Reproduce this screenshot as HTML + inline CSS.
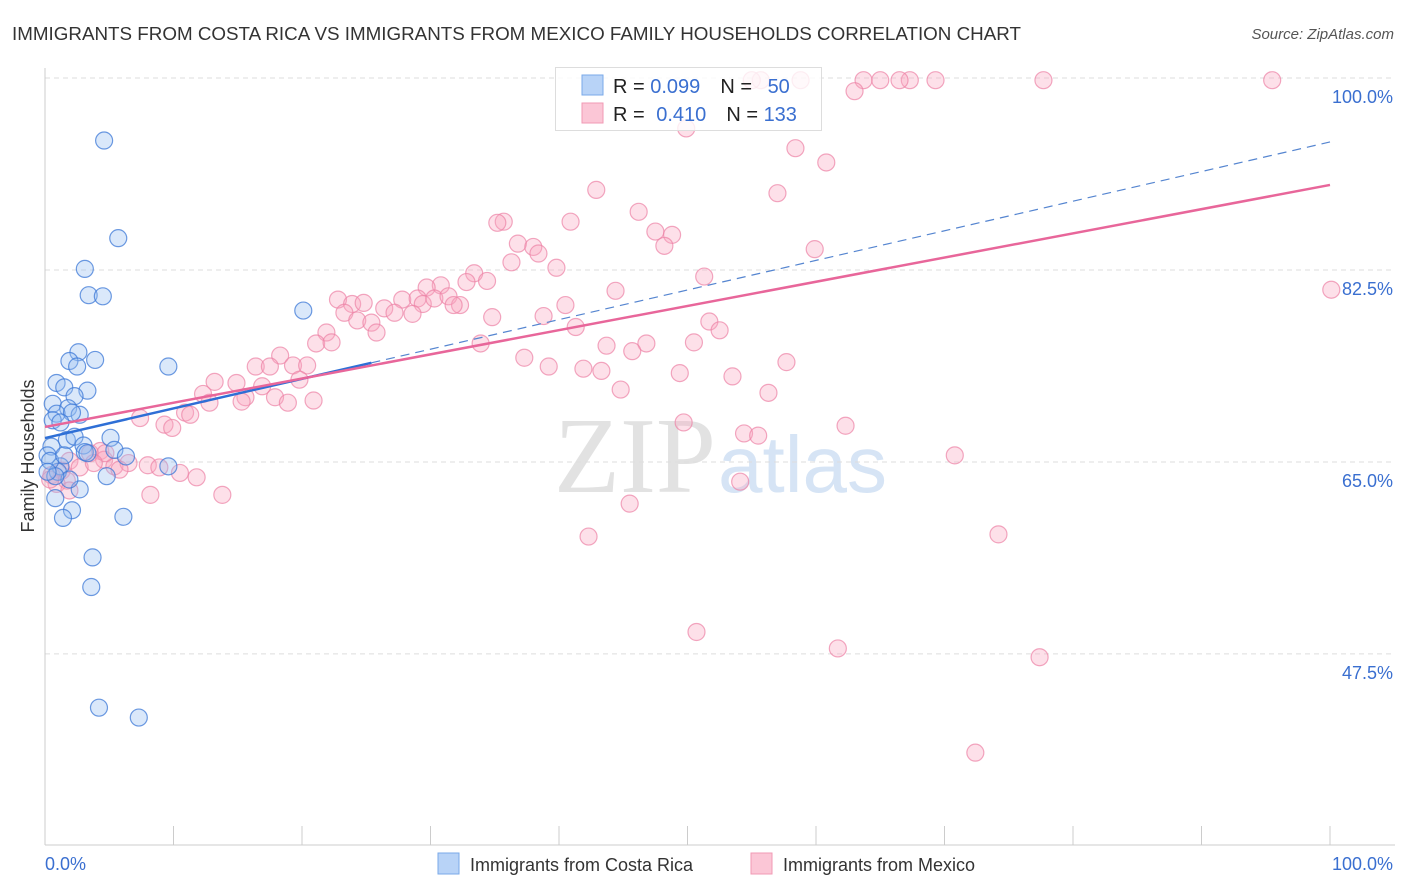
<!DOCTYPE html>
<html><head><meta charset="utf-8"><style>
body{margin:0;background:#fff;font-family:"Liberation Sans",sans-serif;}
#wrap{position:relative;width:1406px;height:892px;overflow:hidden;}
</style></head><body>
<div id="wrap">
<svg id="svg" width="1406" height="892" xmlns="http://www.w3.org/2000/svg">
<text x="12" y="40" font-size="18.8" fill="#333" textLength="1009">IMMIGRANTS FROM COSTA RICA VS IMMIGRANTS FROM MEXICO FAMILY HOUSEHOLDS CORRELATION CHART</text>
<text x="1394" y="39" font-size="15" fill="#555" text-anchor="end" font-style="italic">Source: ZipAtlas.com</text>
<text x="716" y="492" font-size="108" fill="#e2e2e2" text-anchor="end" font-family="Liberation Serif">ZIP</text>
<text x="718" y="492" font-size="80" fill="#d6e4f5">atlas</text>
<g id="grid"></g>
<g id="axes"></g>
<g id="marks"></g>
<g id="lines"></g>
<text transform="translate(34,456) rotate(-90)" font-size="18" fill="#333" text-anchor="middle">Family Households</text>
<text x="45" y="870" font-size="18" fill="#3a6fd0">0.0%</text>
<text x="1393" y="870" font-size="18" fill="#3a6fd0" text-anchor="end">100.0%</text>
<g>
<rect x="555.5" y="67.5" width="266" height="63" fill="rgba(255,255,255,0.8)" stroke="#ddd"/>
<rect x="582" y="75" width="21" height="20" fill="#b8d3f7" stroke="#7aaae8"/>
<rect x="582" y="103" width="21" height="20" fill="#fbc6d6" stroke="#f09ab4"/>
<text x="613" y="93" font-size="20" fill="#222">R = <tspan fill="#3a6fd0">0.099</tspan><tspan dx="20">N = </tspan><tspan fill="#3a6fd0" dx="10">50</tspan></text>
<text x="613" y="121" font-size="20" fill="#222">R = <tspan fill="#3a6fd0" dx="6">0.410</tspan><tspan dx="20">N = </tspan><tspan fill="#3a6fd0">133</tspan></text>
</g>
<g>
<rect x="438" y="853" width="21" height="21" fill="#b8d3f7" stroke="#7aaae8"/>
<text x="470" y="871" font-size="18" fill="#333">Immigrants from Costa Rica</text>
<rect x="751" y="853" width="21" height="21" fill="#fbc6d6" stroke="#f09ab4"/>
<text x="783" y="871" font-size="18" fill="#333">Immigrants from Mexico</text>
</g>
</svg>
</div>
<script>
const yTicks=[100,82.5,65,47.5];
const yTickLabels=["100.0%","82.5%","65.0%","47.5%"];
const xTicks=[0,10,20,30,40,50,60,70,80,90,100];
const blueX=[4.6,5.7,3.1,3.4,4.5,20.1,9.6,2.6,3.9,1.9,2.5,0.9,1.5,3.3,2.3,0.6,1.8,2.7,0.9,2.1,0.6,1.2,1.7,2.3,5.1,3.0,0.5,3.1,5.4,3.3,0.2,6.3,9.6,1.2,1.0,4.8,2.7,0.8,2.1,1.4,6.1,3.7,3.6,4.2,7.3,0.4,1.5,1.9,0.8,0.2];
const blueY=[94.3,85.4,82.6,80.2,80.1,78.8,73.7,75.0,74.3,74.2,73.7,72.2,71.8,71.5,71.0,70.3,69.9,69.3,69.4,69.5,68.8,68.6,67.0,67.3,67.2,66.5,66.4,65.9,66.1,65.8,65.6,65.5,64.6,64.6,64.1,63.7,62.5,61.7,60.6,59.9,60.0,56.3,53.6,42.6,41.7,65.1,65.6,63.4,63.7,64.1];
const pinkX=[95.5,77.7,69.3,67.3,66.5,65.0,63.7,63.0,58.8,55.7,55.0,49.9,58.4,60.8,57.0,42.9,46.2,40.9,35.7,35.2,47.5,48.8,36.8,38.0,48.2,38.4,36.3,59.9,39.8,33.4,51.3,34.4,44.4,30.8,29.7,32.8,22.8,23.9,24.8,26.4,27.8,29.0,29.4,30.3,31.4,32.3,31.8,23.3,27.2,24.3,25.4,28.6,34.8,40.5,38.8,41.3,51.7,52.5,21.9,21.1,22.3,25.8,33.9,43.7,46.8,45.7,50.5,37.3,39.2,57.7,41.9,43.3,49.4,53.5,18.3,16.4,17.5,19.3,20.4,19.8,13.2,14.9,16.9,12.3,12.8,15.6,15.3,17.9,18.9,20.9,44.8,56.3,10.9,7.4,11.3,9.3,9.9,49.7,54.4,55.5,62.3,70.8,1.9,3.5,4.3,4.6,5.4,6.5,8.0,8.9,1.3,2.7,0.5,10.5,11.8,5.8,1.7,0.9,0.4,1.9,8.2,13.8,54.1,45.5,42.3,74.2,50.7,61.7,77.4,72.4,100.1,4.7,3.8];
const pinkY=[99.8,99.8,99.8,99.8,99.8,99.8,99.8,98.8,99.8,99.8,99.8,95.4,93.6,92.3,89.5,89.8,87.8,86.9,86.9,86.8,86.0,85.7,84.9,84.6,84.7,84.0,83.2,84.4,82.7,82.2,81.9,81.5,80.6,81.1,80.9,81.4,79.8,79.4,79.5,79.0,79.8,79.9,79.4,79.9,80.1,79.3,79.3,78.6,78.6,77.9,77.7,78.5,78.2,79.3,78.3,77.3,77.8,77.0,76.8,75.8,75.9,76.8,75.8,75.6,75.8,75.1,75.9,74.5,73.7,74.1,73.5,73.3,73.1,72.8,74.7,73.7,73.7,73.8,73.8,72.5,72.3,72.2,71.9,71.2,70.4,70.9,70.5,70.9,70.4,70.6,71.6,71.3,69.5,69.0,69.3,68.4,68.1,68.6,67.6,67.4,68.3,65.6,65.1,65.8,66.0,65.2,64.6,64.9,64.7,64.5,64.2,64.5,63.8,64.0,63.6,64.3,63.3,63.0,63.4,62.4,62.0,62.0,63.2,61.2,58.2,58.4,49.5,48.0,47.2,38.5,80.7,65.8,64.9];
const blueTrend=[67.18,94.17];
const blueSolidEnd=25.4;
const pinkTrend=[68.19,90.25];

const X=v=>45+v*12.85;
const Y=v=>78+(100-v)*10.97;
const NS="http://www.w3.org/2000/svg";
function mk(tag,attrs,parent){const e=document.createElementNS(NS,tag);for(const k in attrs)e.setAttribute(k,attrs[k]);document.getElementById(parent).appendChild(e);return e;}

yTicks.forEach((t,i)=>{
  const l=mk('line',{x1:45,x2:1393,y1:Y(t),y2:Y(t),stroke:'#ddd','stroke-dasharray':'5,4'},'grid');
  
  
  const tx=mk('text',{x:1393,y:Y(t)+25,'font-size':18,fill:'#3a6fd0','text-anchor':'end'},'grid');
  tx.textContent=yTickLabels[i];
  
  
});
const ya=mk('line',{x1:45,x2:45,y1:68,y2:845,stroke:'#ccc'},'axes');


const xa=mk('line',{x1:45,x2:1395,y1:845,y2:845,stroke:'#ccc'},'axes');


xTicks.forEach(t=>{
  const l=mk('line',{x1:X(t),x2:X(t),y1:826,y2:845,stroke:'#ccc'},'axes');
  
  
});
pinkX.forEach((x,i)=>{
  const c=mk('circle',{cx:X(x),cy:Y(pinkY[i]),r:8.5,fill:'rgba(248,166,192,0.35)',stroke:'rgba(236,130,165,0.7)','stroke-width':1.2},'marks');
  
  
});
blueX.forEach((x,i)=>{
  const c=mk('circle',{cx:X(x),cy:Y(blueY[i]),r:8.5,fill:'rgba(150,190,240,0.35)',stroke:'rgba(60,120,215,0.75)','stroke-width':1.2},'marks');
  
  
});
const by=x=>blueTrend[0]+(blueTrend[1]-blueTrend[0])*x/100;
const py=x=>pinkTrend[0]+(pinkTrend[1]-pinkTrend[0])*x/100;
const bd=mk('line',{x1:X(blueSolidEnd),y1:Y(by(blueSolidEnd)),x2:X(100),y2:Y(by(100)),stroke:'#5585d0','stroke-width':1.2,'stroke-dasharray':'9,6'},'lines');


const bs=mk('line',{x1:X(0),y1:Y(by(0)),x2:X(blueSolidEnd),y2:Y(by(blueSolidEnd)),stroke:'#2e6fd6','stroke-width':2.5},'lines');


const ps=mk('line',{x1:X(0),y1:Y(py(0)),x2:X(100),y2:Y(py(100)),stroke:'#e8669a','stroke-width':2.5},'lines');


</script>
</body></html>
